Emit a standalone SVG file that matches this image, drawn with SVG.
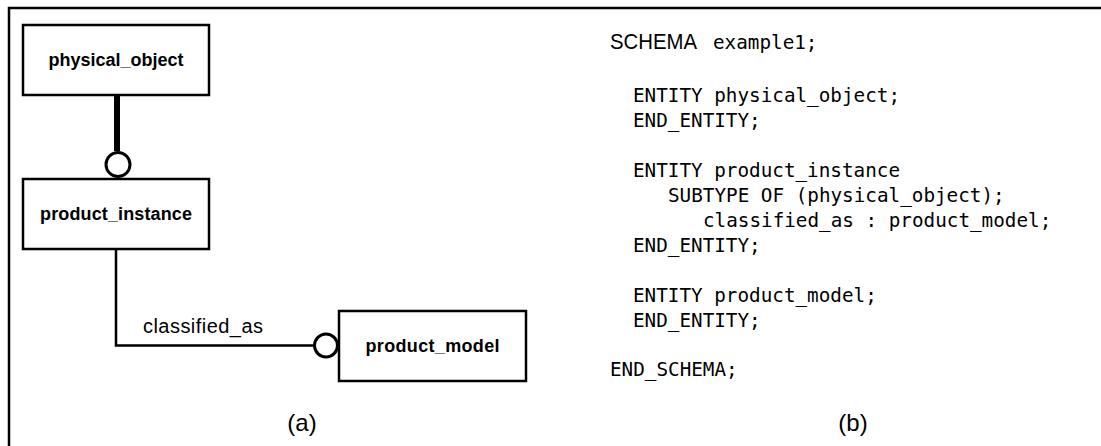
<svg xmlns="http://www.w3.org/2000/svg" width="1101" height="446" viewBox="0 0 1101 446">
<style>
.box{fill:#fff;stroke:#000;stroke-width:2.5}
.lbl{font-family:"Liberation Sans",Arial,sans-serif;font-weight:bold;font-size:18px;text-anchor:middle;fill:#000}
.code{font-family:"DejaVu Sans Mono","Liberation Mono",monospace;font-size:19.3px;fill:#000;white-space:pre}
.cap{font-family:"Liberation Sans",Arial,sans-serif;font-size:20px;fill:#000}
.sub{font-family:"Liberation Sans",Arial,sans-serif;font-size:24px;fill:#000;text-anchor:middle}
.ln{fill:none;stroke:#000}
</style>
<rect width="1101" height="446" fill="#fff"/>
<path d="M9,446 V8 H1101" fill="none" stroke="#000" stroke-width="2.5"/>
<g id="connectors">
  <line class="ln" x1="117" y1="95" x2="117" y2="151" stroke-width="6"/>
  <circle cx="118" cy="164.5" r="12" fill="#fff" stroke="#000" stroke-width="3"/>
  <polyline class="ln" points="116,249 116,345.5 313,345.5" stroke-width="2.5"/>
  <circle cx="326" cy="345.5" r="11.5" fill="#fff" stroke="#000" stroke-width="3"/>
  <text class="cap" x="143" y="333" textLength="120">classified_as</text>
</g>
<g id="physical_object">
  <rect class="box" x="23" y="25" width="186" height="70"/>
  <text class="lbl" x="116" y="66" textLength="135">physical_object</text>
</g>
<g id="product_instance">
  <rect class="box" x="23" y="179" width="186" height="70"/>
  <text class="lbl" x="116" y="220" textLength="152">product_instance</text>
</g>
<g id="product_model">
  <rect class="box" x="339" y="311" width="187" height="70"/>
  <text class="lbl" x="432.5" y="352" textLength="134">product_model</text>
</g>
<g id="captions">
  <text class="sub" x="302" y="431">(a)</text>
  <text class="sub" x="853" y="431">(b)</text>
</g>
<g id="code">
  <text x="610" y="48.5" font-family="Liberation Sans,Arial,sans-serif" font-size="22" textLength="87" lengthAdjust="spacingAndGlyphs">SCHEMA</text>
  <text class="code" x="713" y="48.5">example1;</text>
  <text class="code" x="633" y="102">ENTITY physical_object;</text>
  <text class="code" x="633" y="127">END_ENTITY;</text>
  <text class="code" x="633" y="177">ENTITY product_instance</text>
  <text class="code" x="668" y="202">SUBTYPE OF (physical_object);</text>
  <text class="code" x="703" y="227">classified_as : product_model;</text>
  <text class="code" x="633" y="252">END_ENTITY;</text>
  <text class="code" x="633" y="302">ENTITY product_model;</text>
  <text class="code" x="633" y="327">END_ENTITY;</text>
  <text class="code" x="610" y="376">END_SCHEMA;</text>
</g>
</svg>
